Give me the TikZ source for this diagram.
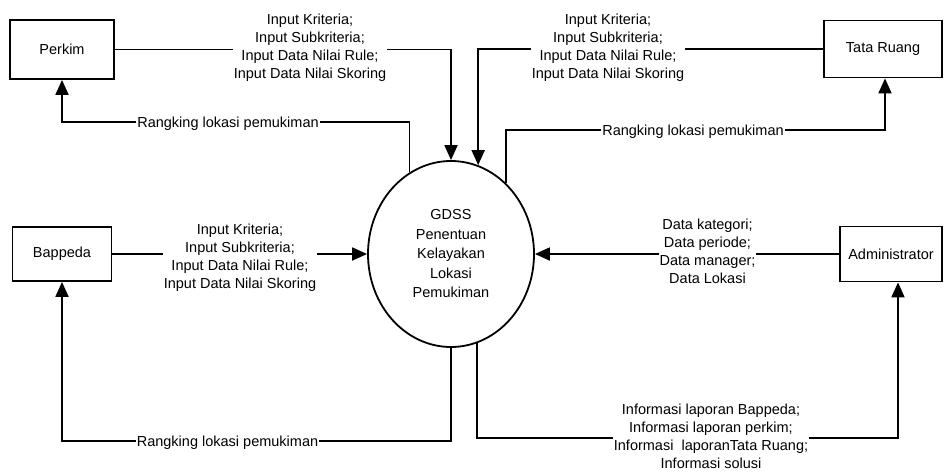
\documentclass[tikz,border=0pt]{standalone}
\usepackage{fontspec}
\setmainfont{Liberation Sans}
\usetikzlibrary{arrows.meta,shapes.geometric}
\begin{document}
\begin{tikzpicture}[x=1pt,y=-1pt,
  every node/.style={font=\fontsize{14.5}{18}\selectfont},
  arr/.style={line width=1.8pt,-{Triangle[width=13pt,length=15pt]}},
  ent/.style={draw,line width=1.8pt,rectangle,inner sep=0pt},
  proc/.style={draw,line width=1.8pt,ellipse,inner sep=0pt,minimum width=166pt,minimum height=186pt,align=center,font=\fontsize{14.5}{19.5}\selectfont},
  lbl/.style={fill=white,inner xsep=1pt,inner ysep=0pt,align=center}]
\useasboundingbox (0,0) rectangle (944,476);
% entities
\node[ent,minimum width=104pt,minimum height=59pt] (perkim) at (62,49.5) {Perkim};
\node[ent,minimum width=118pt,minimum height=57pt] (tata) at (883,49) {Tata Ruang};
\node[ent,minimum width=99pt,minimum height=54pt] (bappeda) at (62,254) {Bappeda};
\node[ent,minimum width=102pt,minimum height=55pt] (admin) at (891,254) {Administrator};
\node[proc] (gdss) at (451,254) {GDSS\\Penentuan\\Kelayakan\\Lokasi\\Pemukiman};
% bend points
\coordinate (k1) at (62,122);
\coordinate (k2) at (885,130);
\coordinate (k3) at (62,441);
\coordinate (k4) at (898,438);
% connectors
\draw[arr] (perkim.east) -| (gdss.north);
\draw[arr] (tata.west) -| (gdss.73.6);
\draw[arr] (gdss.117.6) |- (k1) -- (perkim.south);
\draw[arr] (gdss.52.6) |- (k2) -- (k2 |- tata.south);
\draw[arr] (bappeda.east) -- (gdss.west);
\draw[arr] (admin.west) -- (gdss.east);
\draw[arr] (gdss.south) |- (k3) -- (bappeda.south);
\draw[arr] (gdss.-74.3) |- (k4) -- (k4 |- admin.south);
% labels
\node[lbl] (t1) at (310,48.2) {Input Kriteria;\\Input Subkriteria;\\Input Data Nilai Rule;\\Input Data Nilai Skoring};
\node[lbl] (t2) at (608,48.2) {Input Kriteria;\\Input Subkriteria;\\Input Data Nilai Rule;\\Input Data Nilai Skoring};
\node[lbl] (t3) at (240,258.2) {Input Kriteria;\\Input Subkriteria;\\Input Data Nilai Rule;\\Input Data Nilai Skoring};
\node[lbl] (t4) at (707.5,251.7) {Data kategori;\\Data periode;\\Data manager;\\Data Lokasi};
\node[lbl] (t5) at (711,436.7) {Informasi laporan Bappeda;\\Informasi laporan perkim;\\Informasi\ \ laporanTata Ruang;\\Informasi solusi};
\node[lbl,anchor=base] (r1) at (228,128) {Rangking lokasi pemukiman};
\node[lbl,anchor=base] (r2) at (693,135.5) {Rangking lokasi pemukiman};
\node[lbl,anchor=base] (r3) at (227.5,446.5) {Rangking lokasi pemukiman};
\end{tikzpicture}
\end{document}
